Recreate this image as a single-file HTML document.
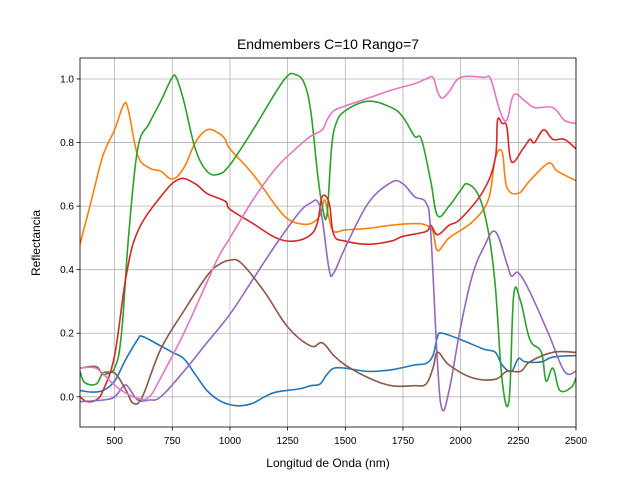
<!DOCTYPE html>
<html><head><meta charset="utf-8"><style>body{margin:0;background:#fff}svg{display:block;font-family:"Liberation Sans",sans-serif}</style></head>
<body>
<svg id="chart" width="640" height="480"></svg>
<script>
const xTicks=[500,750,1000,1250,1500,1750,2000,2250,2500];
const yTicks=[0.0,0.2,0.4,0.6,0.8,1.0];
const blueW=[350,400,450,500,550,600,620,700,750,800,850,900,950,1000,1050,1100,1150,1200,1300,1350,1390,1420,1450,1500,1600,1700,1800,1850,1880,1900,1920,2000,2100,2150,2180,2220,2250,2280,2350,2400,2500];
const blueV=[0.02,0.015,0.02,0.05,0.12,0.18,0.19,0.16,0.14,0.12,0.07,0.02,-0.01,-0.025,-0.028,-0.02,0,0.015,0.025,0.035,0.04,0.07,0.09,0.09,0.08,0.085,0.1,0.105,0.13,0.19,0.2,0.18,0.15,0.14,0.1,0.08,0.12,0.11,0.11,0.125,0.13];
const orangeW=[350,400,450,500,540,560,600,650,700,750,800,850,900,950,980,1000,1100,1200,1250,1300,1350,1390,1410,1430,1450,1500,1600,1700,1800,1850,1880,1900,1950,2050,2120,2150,2180,2200,2250,2300,2380,2420,2500];
const orangeV=[0.48,0.62,0.76,0.84,0.92,0.9,0.76,0.72,0.71,0.685,0.72,0.8,0.84,0.83,0.81,0.78,0.7,0.6,0.56,0.545,0.545,0.57,0.62,0.56,0.52,0.525,0.53,0.54,0.545,0.54,0.52,0.46,0.5,0.55,0.62,0.75,0.77,0.66,0.64,0.68,0.735,0.71,0.68];
const greenW=[350,370,420,450,500,530,560,600,650,700,750,770,800,850,900,950,1000,1100,1200,1250,1280,1320,1350,1380,1400,1420,1440,1460,1500,1600,1700,1750,1800,1830,1870,1900,1950,2000,2030,2080,2120,2150,2180,2210,2230,2260,2300,2350,2370,2400,2430,2480,2500];
const greenV=[0.08,0.045,0.04,0.075,0.09,0.2,0.5,0.78,0.86,0.93,1.005,1.0,0.93,0.78,0.71,0.7,0.73,0.84,0.96,1.01,1.015,0.99,0.9,0.7,0.6,0.57,0.78,0.86,0.9,0.93,0.91,0.88,0.82,0.81,0.68,0.57,0.6,0.65,0.67,0.63,0.52,0.35,0.05,-0.01,0.32,0.3,0.18,0.14,0.05,0.09,0.02,0.03,0.06];
const redW=[350,380,420,450,500,550,600,700,780,850,900,980,1000,1100,1200,1280,1350,1380,1400,1430,1450,1500,1600,1700,1750,1850,1870,1900,1950,2000,2100,2150,2160,2180,2200,2220,2270,2300,2320,2360,2400,2450,2500];
const redV=[0,-0.015,-0.01,0.02,0.13,0.38,0.52,0.63,0.685,0.67,0.64,0.615,0.59,0.545,0.5,0.49,0.51,0.55,0.63,0.61,0.51,0.49,0.48,0.49,0.505,0.52,0.54,0.51,0.54,0.56,0.65,0.75,0.87,0.86,0.85,0.74,0.78,0.81,0.8,0.84,0.81,0.81,0.78];
const purpleW=[350,450,500,540,560,600,650,700,800,900,1000,1100,1200,1300,1350,1380,1400,1430,1450,1500,1600,1700,1750,1800,1850,1870,1900,1920,1950,2000,2050,2100,2150,2200,2220,2250,2300,2380,2450,2500];
const purpleV=[-0.015,-0.01,0,0.035,0.03,-0.01,-0.01,0,0.08,0.17,0.26,0.37,0.48,0.58,0.61,0.615,0.56,0.4,0.39,0.47,0.61,0.675,0.67,0.63,0.61,0.52,0.1,-0.04,0.02,0.22,0.38,0.47,0.52,0.42,0.38,0.39,0.33,0.2,0.08,0.08];
const brownW=[350,420,450,500,550,580,620,700,800,900,950,1000,1050,1150,1250,1350,1400,1450,1500,1600,1700,1800,1850,1880,1900,1950,2050,2150,2200,2260,2300,2400,2500];
const brownV=[0.09,0.095,0.07,0.075,0.02,-0.02,0,0.15,0.27,0.38,0.415,0.43,0.42,0.33,0.22,0.16,0.17,0.13,0.1,0.06,0.035,0.035,0.04,0.09,0.14,0.1,0.06,0.055,0.08,0.08,0.11,0.14,0.14];
const pinkW=[350,420,480,530,600,650,700,800,900,950,1000,1100,1200,1300,1350,1400,1420,1450,1500,1600,1700,1800,1850,1880,1900,1920,1950,2000,2100,2130,2170,2200,2230,2280,2320,2400,2450,2500];
const pinkV=[0.09,0.09,0.05,0.02,-0.005,0,0.06,0.2,0.36,0.44,0.5,0.62,0.72,0.79,0.82,0.84,0.87,0.9,0.915,0.94,0.965,0.985,1.0,1.005,0.96,0.94,0.96,1.005,1.005,1.0,0.9,0.87,0.95,0.93,0.91,0.91,0.87,0.86];
const series=[["blue",blueW,blueV,"#1f77b4"],["orange",orangeW,orangeV,"#ff7f0e"],["green",greenW,greenV,"#2ca02c"],["red",redW,redV,"#d62728"],["purple",purpleW,purpleV,"#9467bd"],["brown",brownW,brownV,"#8c564b"],["pink",pinkW,pinkV,"#e377c2"]];
const L=80,R=576,T=58,B=427,xmin=350,xmax=2500,ymin=-0.095,ymax=1.066;
const xs=v=>L+(v-xmin)/(xmax-xmin)*(R-L);
const ys=v=>B-(v-ymin)/(ymax-ymin)*(B-T);
const svg=document.getElementById('chart');const NS="http://www.w3.org/2000/svg";
function mk(t,a,p){const e=document.createElementNS(NS,t);for(const k in a)e.setAttribute(k,a[k]);(p||svg).appendChild(e);return e;}
function smooth(P){let d='M'+P[0][0]+','+P[0][1];const k=0.18;
for(let i=0;i<P.length-1;i++){const p0=P[Math.max(i-1,0)],p1=P[i],p2=P[i+1],p3=P[Math.min(i+2,P.length-1)];
d+=' C'+(p1[0]+(p2[0]-p0[0])*k)+','+(p1[1]+(p2[1]-p0[1])*k)+' '+(p2[0]-(p3[0]-p1[0])*k)+','+(p2[1]-(p3[1]-p1[1])*k)+' '+p2[0]+','+p2[1];}
return d;}
const clip=mk('clipPath',{id:'c'});mk('rect',{x:L,y:T,width:R-L,height:B-T},clip);
const grid=mk('g',{});


xTicks.forEach(t=>{const x=xs(t);mk('line',{x1:x,x2:x,y1:T,y2:B,stroke:'#b0b0b0','stroke-width':0.8},grid);mk('line',{x1:x,x2:x,y1:B,y2:B+3.5,stroke:'#000','stroke-width':0.8});
const tx=mk('text',{x:x,y:B+17,'font-size':10,'text-anchor':'middle'});tx.textContent=t;

});
yTicks.forEach(t=>{const y=ys(t);mk('line',{x1:L,x2:R,y1:y,y2:y,stroke:'#b0b0b0','stroke-width':0.8},grid);mk('line',{x1:L-3.5,x2:L,y1:y,y2:y,stroke:'#000','stroke-width':0.8});
const tx=mk('text',{x:L-6,y:y+3.5,'font-size':10,'text-anchor':'end'});tx.textContent=t.toFixed(1);

});
series.forEach(s=>{const pts=s[1].map((w,i)=>[xs(w),ys(s[2][i])]);const p=mk('path',{d:smooth(pts),fill:'none',stroke:s[3],'stroke-width':1.6,'stroke-linejoin':'round','clip-path':'url(#c)'});

});
const fr=mk('rect',{x:L,y:T,width:R-L,height:B-T,fill:'none',stroke:'#000','stroke-width':0.8});


const ti=mk('text',{x:328,y:49,'font-size':14,'text-anchor':'middle'});ti.textContent='Endmembers C=10 Rango=7';


const xl=mk('text',{x:328,y:467,'font-size':12,'text-anchor':'middle'});xl.textContent='Longitud de Onda (nm)';


const yl=mk('text',{x:40,y:243,'font-size':12,'text-anchor':'middle',transform:'rotate(-90 40 243)'});yl.textContent='Reflectancia';


</script>
</body></html>
